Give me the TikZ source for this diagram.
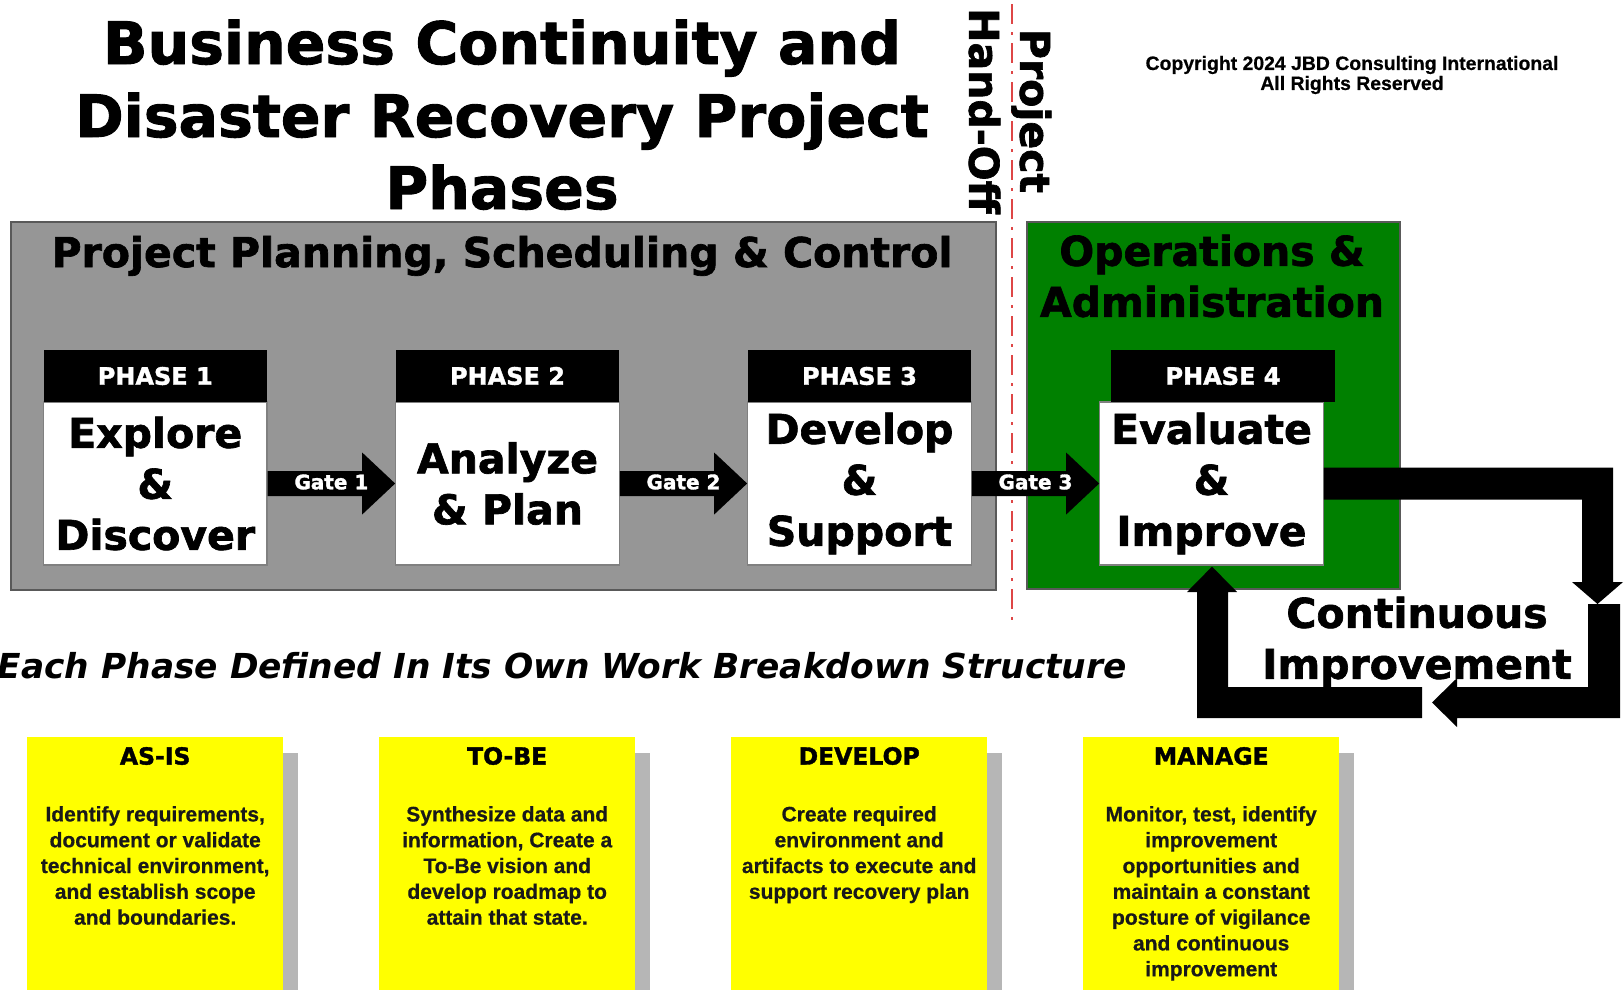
\documentclass[tikz,border=0pt]{standalone}
\usepackage{fontspec}
\setmainfont{Liberation Sans}[BoldFeatures={FakeBold=0.6}]
\newfontfamily\dvs{DejaVu Sans}[BoldFeatures={FakeBold=1.6}]
\usetikzlibrary{calc}
\definecolor{panelgray}{RGB}{150,150,150}
\definecolor{panelgreen}{RGB}{0,128,0}
\definecolor{handred}{RGB}{222,70,70}
\definecolor{shadowgray}{RGB}{182,182,182}
\definecolor{noteyellow}{RGB}{255,255,0}
\newcommand\gatearrow[4]{%
  \fill[black] ($(#1.east)+(0,-12.5)$) -- ($(#2.west)+(-33,-12.5)$) -- ($(#2.west)+(-33,-31)$)
    -- (#2.west) -- ($(#2.west)+(-33,31)$) -- ($(#2.west)+(-33,12.5)$) -- ($(#1.east)+(0,12.5)$) -- cycle;
  \node[gatelabel] (#4) at ($(#1.east)!0.5!(#2.west)+(0,-1.5)$) {#3};}
\begin{document}
\begin{tikzpicture}[x=1pt,y=-1pt,
  heavy/.style={font={\dvs\bfseries\fontsize{41}{51}\selectfont}, align=center, inner sep=0pt},
  titlefont/.style={font={\dvs\bfseries\fontsize{58.5}{72}\selectfont}, inner sep=0pt},
  panel/.style={draw=black!65, line width=1.5, inner sep=0pt},
  phasehead/.style={fill=black, text=white, font={\dvs\bfseries\fontsize{24}{28}\selectfont}, minimum width=223.5, minimum height=52, inner sep=0pt},
  phasebody/.style={heavy, fill=white, draw=gray, line width=1.2, minimum width=223.5, minimum height=163},
  gatelabel/.style={text=white, font={\dvs\bfseries\fontsize{20}{24}\selectfont}, inner sep=0pt},
  handoff/.style={draw=handred, line width=2.5, dash pattern=on 20pt off 8pt on 3pt off 8pt},
  note/.style={fill=noteyellow, minimum width=256, minimum height=270, anchor=north west, inner sep=0pt},
  notetitle/.style={font={\dvs\bfseries\fontsize{23.5}{28}\selectfont}, inner sep=0pt},
  notebody/.style={font={\bfseries\fontsize{21}{25.8}\selectfont}, align=center, inner sep=0pt, text=black!90, anchor=north},
  loop/.style={fill=black}
]
\useasboundingbox (0,0) rectangle (1624,989);

% title
\node[titlefont, anchor=base] (title1) at (502,64) {Business Continuity and};
\node[titlefont, anchor=base] (title2) at (502,137) {Disaster Recovery Project};
\node[titlefont, anchor=base] (title3) at (502,209) {Phases};

% copyright
\node[font={\bfseries\fontsize{19.4}{20}\selectfont}, align=center, inner sep=0pt] (copy) at (1352,75)
  {Copyright 2024 JBD Consulting International\\All Rights Reserved};

% panels
\node[panel, fill=panelgray, minimum width=985, minimum height=368] (plan) at (503.5,406) {};
\node[panel, fill=panelgreen, minimum width=373, minimum height=367] (ops) at (1213.5,405.5) {};
\node[heavy, anchor=base] (plantitle) at (502,267) {Project Planning, Scheduling \& Control};
\node[heavy] (opstitle) at (1212,276) {Operations \&\\Administration};

% hand-off line
\coordinate (hoTop) at (1012,4);
\coordinate (hoBot) at (1012,621);
\draw[handoff] (hoTop) -- (hoBot);
\node[heavy, rotate=-90] (handofftext) at (1010,111) {Project\\Hand-Off};

% phase boxes
\node[phasebody] (p1) at (155.25,483.5) {Explore\\\&\\Discover};
\node[phasebody] (p2) at (507.5,483.5) {Analyze\\\& Plan};
\node[phasebody] (p3) at (859.5,483.5) {Develop\\\&\\Support};
\node[phasebody] (p4) at (1211.5,483.5) {Evaluate\\\&\\Improve};
\node[phasehead] (h1) at (155.25,376) {PHASE 1};
\node[phasehead] (h2) at (507.5,376) {PHASE 2};
\node[phasehead] (h3) at (859.5,376) {PHASE 3};
\node[phasehead] (h4) at (1223,376) {PHASE 4};

% gates
\gatearrow{p1}{p2}{Gate 1}{g1}
\gatearrow{p2}{p3}{Gate 2}{g2}
\gatearrow{p3}{p4}{Gate 3}{g3}

% continuous improvement loop
\fill[loop] ($(p4.east)+(0,-16)$) -- (1613,467.5) -- (1613,582) -- (1623,582) -- (1597.5,604)
  -- (1572,582) -- (1582,582) -- (1582,499.5) -- ($(p4.east)+(0,16)$) -- cycle;
\fill[loop] (1588,604) -- (1620,604) -- (1620,718) -- (1457,718) -- (1457,727) -- (1432,702.5)
  -- (1457,678) -- (1457,687) -- (1588,687) -- cycle;
\fill[loop] (1422,687) -- (1422,718) -- (1197,718) -- (1197,592) -- (1187,592)
  -- ($(p4.south)+(0.5,1)$) -- (1237,592) -- (1228,592) -- (1228,687) -- cycle;
\node[heavy] (ci) at (1417,642) {Continuous\\Improvement};

% WBS caption
\node[font={\dvs\bfseries\itshape\fontsize{34.4}{40}\selectfont}, anchor=base east, inner sep=0pt] (wbs)
  at (1127,678.5) {Each Phase Defined In Its Own Work Breakdown Structure};

% notes
\node[note] (n1) at (27,737) {};
\node[note] (n2) at (379,737) {};
\node[note] (n3) at (731,737) {};
\node[note] (n4) at (1083,737) {};
\foreach \n in {n1,n2,n3,n4}
  \fill[shadowgray] ($(\n.north east)+(0,16)$) rectangle ($(\n.south east)+(15,0)$);
\node[notetitle] (t1) at ($(n1.north)+(0,19)$) {AS-IS};
\node[notetitle] (t2) at ($(n2.north)+(0,19)$) {TO-BE};
\node[notetitle] (t3) at ($(n3.north)+(0,19)$) {DEVELOP};
\node[notetitle] (t4) at ($(n4.north)+(0,19)$) {MANAGE};
\node[notebody] (b1) at ($(n1.north)+(0,69)$) {Identify requirements,\\document or validate\\technical environment,\\and establish scope\\and boundaries.};
\node[notebody] (b2) at ($(n2.north)+(0,69)$) {Synthesize data and\\information, Create a\\To-Be vision and\\develop roadmap to\\attain that state.};
\node[notebody] (b3) at ($(n3.north)+(0,69)$) {Create required\\environment and\\artifacts to execute and\\support recovery plan};
\node[notebody] (b4) at ($(n4.north)+(0,69)$) {Monitor, test, identify\\improvement\\opportunities and\\maintain a constant\\posture of vigilance\\and continuous\\improvement};
\end{tikzpicture}
\end{document}
